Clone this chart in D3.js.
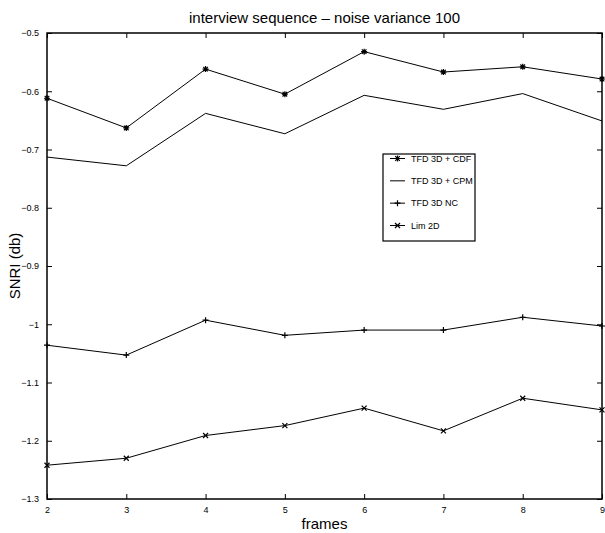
<!DOCTYPE html>
<html>
<head>
<meta charset="utf-8">
<script src="https://cdn.jsdelivr.net/npm/d3@7"></script>
<style>
    body { margin: 0; background: #fff; }
    svg { display: block; font-family: "Liberation Sans", Arial, Helvetica, sans-serif; }
</style>
</head>
<body>
<div id="chart"></div>
<script>
// data
var frames = [2, 3, 4, 5, 6, 7, 8, 9];
var tfdCdf = [-0.612, -0.663, -0.562, -0.605, -0.532, -0.567, -0.558, -0.579];
var tfdCpm = [-0.713, -0.728, -0.638, -0.673, -0.607, -0.631, -0.604, -0.651];
var tfdNc = [-1.036, -1.053, -0.993, -1.019, -1.010, -1.010, -0.988, -1.003];
var lim2d = [-1.242, -1.230, -1.191, -1.174, -1.144, -1.183, -1.127, -1.147];
var yTicks = [-0.5, -0.6, -0.7, -0.8, -0.9, -1, -1.1, -1.2, -1.3];
var seriesNames = ['TFD 3D + CDF', 'TFD 3D + CPM', 'TFD 3D NC', 'Lim 2D'];

var series = [
    { name: seriesNames[0], values: tfdCdf, marker: 'star' },
    { name: seriesNames[1], values: tfdCpm, marker: 'none' },
    { name: seriesNames[2], values: tfdNc, marker: 'plus' },
    { name: seriesNames[3], values: lim2d, marker: 'cross' }
];

var width = 605, height = 533;
var margin = { top: 33, right: 3, bottom: 34, left: 47 };
var w = width - margin.left - margin.right;
var h = height - margin.top - margin.bottom;

var svg = d3.select('#chart')
    .append('svg')
    .attr('width', width)
    .attr('height', height);

var graph = svg.append('g')
    .attr('transform', 'translate(' + margin.left + ',' + margin.top + ')');

var x = d3.scaleLinear().domain([2, 9]).range([0, w]);
var y = d3.scaleLinear().domain([-1.3, -0.5]).range([h, 0]);

var fmt = function(d) {
    return d3.format('')(d).replace('-', '\u2212');
};

// marker glyphs
var markerPath = function(type) {
    var s = 3;
    if (type === 'plus') return 'M' + (-s) + ',0H' + s + 'M0,' + (-s) + 'V' + s;
    if (type === 'cross') {
        var c = 2.5;
        return 'M' + (-c) + ',' + (-c) + 'L' + c + ',' + c + 'M' + (-c) + ',' + c + 'L' + c + ',' + (-c);
    }
    if (type === 'star') {
        var d = 2.3;
        return 'M' + (-s) + ',0H' + s + 'M0,' + (-s) + 'V' + s +
            'M' + (-d) + ',' + (-d) + 'L' + d + ',' + d + 'M' + (-d) + ',' + d + 'L' + d + ',' + (-d);
    }
    return '';
};

// axes with inward ticks
var tickFont = function(g) {
    g.selectAll('text').attr('font-size', 9).attr('fill', '#000').attr('font-family', null);
    g.selectAll('line').attr('stroke', '#000');
};

graph.append('g')
    .attr('transform', 'translate(0,' + h + ')')
    .call(d3.axisBottom(x).tickValues(frames).tickSize(-5).tickPadding(8).tickFormat(d3.format('d')))
    .call(tickFont)
    .select('.domain').remove();

graph.append('g')
    .call(d3.axisTop(x).tickValues(frames).tickSize(-5).tickFormat(''))
    .call(tickFont)
    .select('.domain').remove();

graph.append('g')
    .call(d3.axisLeft(y).tickValues(yTicks).tickSize(-5).tickPadding(8).tickFormat(fmt))
    .call(tickFont)
    .select('.domain').remove();

graph.append('g')
    .attr('transform', 'translate(' + w + ',0)')
    .call(d3.axisRight(y).tickValues(yTicks).tickSize(-5).tickFormat(''))
    .call(tickFont)
    .select('.domain').remove();

graph.append('rect')
    .attr('width', w)
    .attr('height', h)
    .attr('fill', 'none')
    .attr('stroke', '#000')
    .attr('stroke-width', 1.5);

// lines
var line = d3.line()
    .x(function(d, i) { return x(frames[i]); })
    .y(function(d) { return y(d); });

series.forEach(function(s) {
    graph.append('path')
        .datum(s.values)
        .attr('fill', 'none')
        .attr('stroke', '#000')
        .attr('stroke-width', 1)
        .attr('d', line);

    if (s.marker !== 'none') {
        graph.selectAll(null)
            .data(s.values)
            .enter()
            .append('path')
            .attr('transform', function(d, i) { return 'translate(' + x(frames[i]) + ',' + y(d) + ')'; })
            .attr('d', markerPath(s.marker))
            .attr('fill', 'none')
            .attr('stroke', '#000')
            .attr('stroke-width', 1.2);
    }
});

// title and labels
svg.append('text')
    .attr('x', margin.left + w / 2)
    .attr('y', 23)
    .attr('text-anchor', 'middle')
    .attr('font-size', 15)
    .text('interview sequence \u2013 noise variance 100');

svg.append('text')
    .attr('x', margin.left + w / 2)
    .attr('y', 529)
    .attr('text-anchor', 'middle')
    .attr('font-size', 15)
    .text('frames');

svg.append('text')
    .attr('transform', 'translate(20,' + (margin.top + h / 2) + ') rotate(-90)')
    .attr('text-anchor', 'middle')
    .attr('font-size', 15)
    .text('SNRI (db)');

// legend
var legend = svg.append('g').attr('transform', 'translate(383,154)');
legend.append('rect')
    .attr('width', 92)
    .attr('height', 87)
    .attr('fill', '#fff')
    .attr('stroke', '#000')
    .attr('stroke-width', 1.2);

var rowY = d3.scalePoint().domain(seriesNames).range([4.5, 71.5]);

series.forEach(function(s) {
    var row = legend.append('g').attr('transform', 'translate(0,' + rowY(s.name) + ')');
    row.append('line')
        .attr('x1', 7).attr('x2', 22)
        .attr('stroke', '#000');
    row.append('path')
        .attr('transform', 'translate(14.5,0)')
        .attr('d', markerPath(s.marker))
        .attr('fill', 'none')
        .attr('stroke', '#000')
        .attr('stroke-width', 1.2);
    row.append('text')
        .attr('x', 28)
        .attr('dy', '0.35em')
        .attr('font-size', 9)
        .text(s.name);
});
</script>
</body>
</html>
